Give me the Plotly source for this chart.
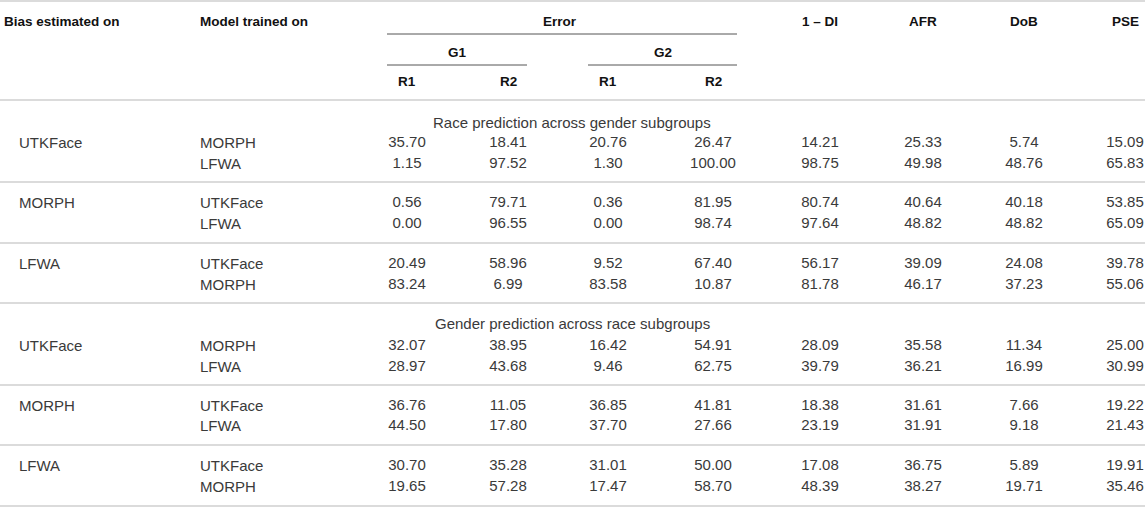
import plotly.graph_objects as go

# table content
bias_on = ["UTKFace", "MORPH", "LFWA", "UTKFace", "MORPH", "LFWA"]
trained_on = [["MORPH", "LFWA"], ["UTKFace", "LFWA"], ["UTKFace", "MORPH"],
              ["MORPH", "LFWA"], ["UTKFace", "LFWA"], ["UTKFace", "MORPH"]]
section_titles = ["Race prediction across gender subgroups",
                  "Gender prediction across race subgroups"]

g1_r1 = ["35.70", "1.15", "0.56", "0.00", "20.49", "83.24",
         "32.07", "28.97", "36.76", "44.50", "30.70", "19.65"]
g1_r2 = ["18.41", "97.52", "79.71", "96.55", "58.96", "6.99",
         "38.95", "43.68", "11.05", "17.80", "35.28", "57.28"]
g2_r1 = ["20.76", "1.30", "0.36", "0.00", "9.52", "83.58",
         "16.42", "9.46", "36.85", "37.70", "31.01", "17.47"]
g2_r2 = ["26.47", "100.00", "81.95", "98.74", "67.40", "10.87",
         "54.91", "62.75", "41.81", "27.66", "50.00", "58.70"]
one_minus_di = ["14.21", "98.75", "80.74", "97.64", "56.17", "81.78",
                "28.09", "39.79", "18.38", "23.19", "17.08", "48.39"]
afr = ["25.33", "49.98", "40.64", "48.82", "39.09", "46.17",
       "35.58", "36.21", "31.61", "31.91", "36.75", "38.27"]
dob = ["5.74", "48.76", "40.18", "48.82", "24.08", "37.23",
       "11.34", "16.99", "7.66", "9.18", "5.89", "19.71"]
pse = ["15.09", "65.83", "53.85", "65.09", "39.78", "55.06",
       "25.00", "30.99", "19.22", "21.43", "19.91", "35.46"]

top_headers = ["1 – DI", "AFR", "DoB", "PSE"]
sub_headers = ["G1", "G2"]
leaf_headers = ["R1", "R2", "R1", "R2"]

# layout (pixel-like coordinates)
W, H = 1145, 507
col_x = [407, 508, 608, 713, 820, 923, 1024, 1125]
row_y = [142, 163, 202, 223, 263, 284, 345, 366, 405, 425, 465, 486]
title_y = [122, 323]
sep_y = [182, 243, 303, 385, 445]
X_BIAS, X_MODEL, X_BODY_LEFT = 2, 198, 17

HEAD_FONT = dict(family="Liberation Sans, Arial, sans-serif", size=13.5, color="#111111")
BODY_FONT = dict(family="Liberation Sans, Arial, sans-serif", size=15, color="#3a3a3a")

fig = go.Figure()

# numeric cells
columns = [g1_r1, g1_r2, g2_r1, g2_r2, one_minus_di, afr, dob, pse]
for cx, vals in zip(col_x, columns):
    fig.add_trace(go.Scatter(
        x=[cx] * len(vals), y=[y + 1 for y in row_y], text=vals, mode="text",
        textposition="middle center", textfont=BODY_FONT,
        hoverinfo="skip", showlegend=False))

annotations = []


def ann(x, y, text, font, xanchor="center"):
    annotations.append(dict(x=x, y=y, xref="x", yref="y", text=text, showarrow=False,
                            xanchor=xanchor, yanchor="middle", font=font))


# header
ann(X_BIAS, 21, "<b>Bias estimated on</b>", HEAD_FONT, "left")
ann(X_MODEL, 21, "<b>Model trained on</b>", HEAD_FONT, "left")
ann(560, 21, "<b>Error</b>", HEAD_FONT)
for cx, t in zip(col_x[4:], top_headers):
    ann(cx, 21, "<b>" + t + "</b>", HEAD_FONT)
ann(457, 52, "<b>" + sub_headers[0] + "</b>", HEAD_FONT)
ann(663, 52, "<b>" + sub_headers[1] + "</b>", HEAD_FONT)
for cx, t in zip(col_x[:4], leaf_headers):
    ann(cx, 81, "<b>" + t + "</b>", HEAD_FONT)

# section titles
for ty, t in zip(title_y, section_titles):
    ann(572, ty, t, BODY_FONT)

# row labels
for i, b in enumerate(bias_on):
    ann(X_BODY_LEFT, row_y[2 * i], b, BODY_FONT, "left")
    for j, m in enumerate(trained_on[i]):
        ann(X_MODEL, row_y[2 * i + j], m, BODY_FONT, "left")

fig.update_layout(annotations=annotations)

# rules
shapes = []
for y in [1, 100] + sep_y + [506]:
    shapes.append(dict(type="line", xref="x", yref="y", x0=0, x1=W, y0=y, y1=y,
                       line=dict(color="#cfcfcf", width=1.5)))
for x0, x1, y in [(387, 737, 34), (387, 527, 65), (588, 737, 65)]:
    shapes.append(dict(type="line", xref="x", yref="y", x0=x0, x1=x1, y0=y, y1=y,
                       line=dict(color="#555555", width=1)))
fig.update_layout(shapes=shapes)

fig.update_layout(
    width=W, height=H,
    margin=dict(l=0, r=0, t=0, b=0),
    paper_bgcolor="white", plot_bgcolor="white",
    xaxis=dict(range=[0, W], visible=False, fixedrange=True),
    yaxis=dict(range=[H, 0], visible=False, fixedrange=True),
)

# drop the default page margin so the table sits at the window's corner
fig.write_html("out.html", config={"displayModeBar": False},
               post_script="document.body.style.margin='0';"
                           "document.body.style.overflow='hidden';")
